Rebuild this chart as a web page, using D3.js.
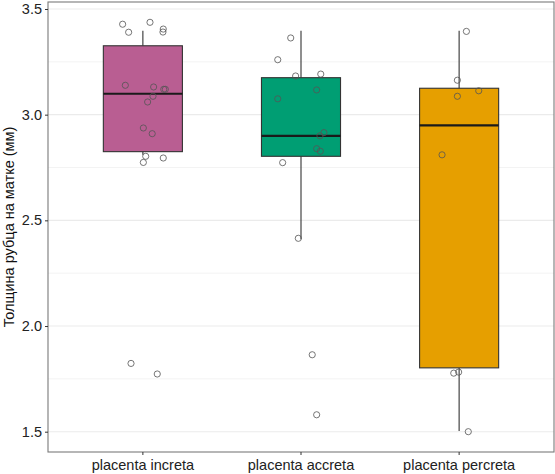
<!DOCTYPE html>
<html><head><meta charset="utf-8">
<script src="https://cdn.jsdelivr.net/npm/d3@7"></script>
<style>body{margin:0;background:#fff}svg{display:block;font-family:"Liberation Sans",Arial,sans-serif}</style>
</head><body><svg id="c" width="555" height="474"></svg>
<script>
const categories = ["placenta increta","placenta accreta","placenta percreta"];
const colors = ["#B95E92","#009E73","#E69F00"];
// box stats: [lowerWhisker, q1, median, q3, upperWhisker]
const boxIncreta = [2.81, 2.825, 3.099, 3.326, 3.397];
const boxAccreta = [2.41, 2.803, 2.900, 3.175, 3.397];
const boxPercreta = [1.503, 1.802, 2.949, 3.125, 3.397];
// jittered points: values and horizontal jitter (in category units)
const ptsIncreta = [3.428,3.390,3.437,3.405,3.391,3.139,3.131,3.120,3.120,3.087,3.060,2.937,2.910,2.803,2.774,2.795,1.823,1.773];
const jitIncreta = [-0.128,-0.090,0.045,0.129,0.127,-0.111,0.068,0.132,0.142,0.064,0.030,0.003,0.059,0.018,0.003,0.129,-0.075,0.091];
const ptsAccreta = [3.363,3.260,3.183,3.192,3.117,3.075,2.915,2.900,2.839,2.827,2.773,2.415,1.864,1.580];
const jitAccreta = [-0.065,-0.147,-0.034,0.125,0.099,-0.147,0.145,0.120,0.099,0.122,-0.116,-0.017,0.071,0.099];
const ptsPercreta = [3.394,3.163,3.113,3.087,2.810,1.777,1.782,1.500];
const jitPercreta = [0.046,-0.011,0.124,-0.011,-0.108,-0.034,-0.003,0.058];
const yTicks = [1.5,2.0,2.5,3.0,3.5];
const yMinor = [1.75,2.25,2.75,3.25];
const yTitle = "Толщина рубца на матке (мм)";

const boxes = [boxIncreta, boxAccreta, boxPercreta];
const pts = [ptsIncreta, ptsAccreta, ptsPercreta];
const jits = [jitIncreta, jitAccreta, jitPercreta];

const L = 48, R = 554, T = 2, B = 452;
const svg = d3.select("#c");
const y = d3.scaleLinear().domain([1.4039, 3.5331]).range([B, T]);
const xl = d3.scaleLinear().domain([0.4, 3.6]).range([L, R]);
const bw = 0.5;

// gridlines
svg.append("g").selectAll("line").data(yMinor).join("line")
  .attr("x1", L).attr("x2", R).attr("y1", d => y(d)).attr("y2", d => y(d))
  .attr("stroke", "#EBEBEB").attr("stroke-width", 0.6);
svg.append("g").selectAll("line").data(yTicks).join("line")
  .attr("x1", L).attr("x2", R).attr("y1", d => y(d)).attr("y2", d => y(d))
  .attr("stroke", "#EBEBEB").attr("stroke-width", 1.1);

const g = svg.append("g");
boxes.forEach((b, i) => {
  const cx = xl(i + 1);
  const x0 = xl(i + 1 - bw / 2), x1 = xl(i + 1 + bw / 2);
  g.append("line").attr("x1", cx).attr("x2", cx).attr("y1", y(b[4])).attr("y2", y(b[3]))
    .attr("stroke", "#333").attr("stroke-width", 1.1);
  g.append("line").attr("x1", cx).attr("x2", cx).attr("y1", y(b[1])).attr("y2", y(b[0]))
    .attr("stroke", "#333").attr("stroke-width", 1.1);
  g.append("rect").attr("x", x0).attr("y", y(b[3])).attr("width", x1 - x0).attr("height", y(b[1]) - y(b[3]))
    .attr("fill", colors[i]).attr("stroke", "#333").attr("stroke-width", 1.1);
  g.append("line").attr("x1", x0).attr("x2", x1).attr("y1", y(b[2])).attr("y2", y(b[2]))
    .attr("stroke", "#1a1a1a").attr("stroke-width", 2.2);
});

pts.forEach((p, i) => {
  g.append("g").selectAll("circle").data(p.map((v, k) => [v, jits[i][k]])).join("circle")
    .attr("cx", d => xl(i + 1 + d[1])).attr("cy", d => y(d[0])).attr("r", 3.1)
    .attr("fill", "none").attr("stroke", "#555").attr("stroke-opacity", 0.8).attr("stroke-width", 1);
});

// panel border
svg.append("rect").attr("x", L).attr("y", T).attr("width", R - L).attr("height", B - T)
  .attr("fill", "none").attr("stroke", "#7a7a7a").attr("stroke-width", 1.1);

// y axis
const yAxis = d3.axisLeft(y).tickValues(yTicks).tickFormat(d3.format(".1f")).tickSize(3).tickPadding(3);
const ya = svg.append("g").attr("transform", `translate(${L},0)`).call(yAxis);
ya.select(".domain").remove();
ya.selectAll(".tick line").attr("stroke", "#333");
ya.selectAll(".tick text").attr("fill", "#222").attr("font-size", 14.5).attr("font-family", "Liberation Sans, Arial, sans-serif");

// x axis
const xb = d3.scaleBand().domain(categories).range([xl(0.5), xl(3.5)]);
const xAxis = d3.axisBottom(xb).tickSize(3).tickPadding(5);
const xa = svg.append("g").attr("transform", `translate(0,${B})`).call(xAxis);
xa.select(".domain").remove();
xa.selectAll(".tick line").attr("stroke", "#333");
xa.selectAll(".tick text").attr("fill", "#222").attr("font-size", 14.5).attr("font-family", "Liberation Sans, Arial, sans-serif");

svg.append("text").attr("transform", `translate(14,${(T + B) / 2}) rotate(-90)`)
  .attr("text-anchor", "middle").attr("font-size", 14.5).attr("fill", "#111").text(yTitle);
</script></body></html>
